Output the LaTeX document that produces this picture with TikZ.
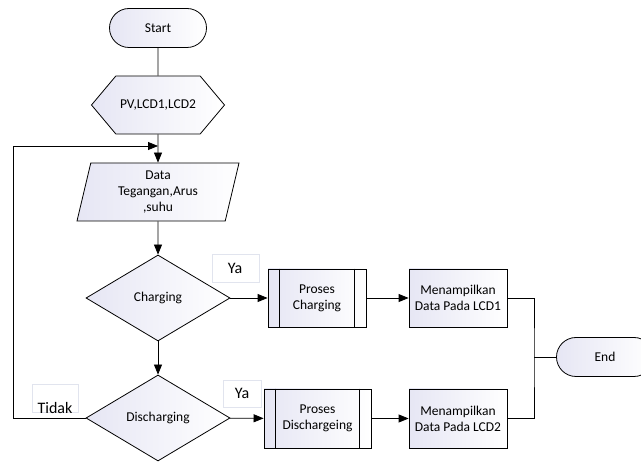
\documentclass[tikz,border=0pt]{standalone}
\usepackage{fontspec}
\setmainfont{Carlito}
\usetikzlibrary{shapes.geometric, shapes.symbols, arrows.meta}
\definecolor{boxshade}{RGB}{230,230,244}
\definecolor{labelline}{RGB}{225,228,238}

\begin{document}
\begin{tikzpicture}[x=1pt, y=-1pt, font=\fontsize{13.5}{16}\selectfont,
  shaded/.style={draw, thick, left color=boxshade, right color=white, align=center, inner sep=0pt},
  terminal/.style={shaded, rectangle, rounded corners=19.5pt, minimum width=97pt, minimum height=39pt},
  prep/.style={shaded, signal, signal to=east and west, signal pointer angle=100, minimum width=133pt, minimum height=58pt},
  io/.style={shaded, trapezium, trapezium left angle=72, trapezium right angle=108, trapezium stretches body, minimum width=162pt, minimum height=58pt},
  decision/.style={shaded, diamond, minimum width=144pt, minimum height=86pt},
  process/.style={shaded, rectangle, minimum width=98pt, minimum height=58pt},
  label/.style={font=\fontsize{16}{19}\selectfont, inner sep=0pt},
  line/.style={thick},
  arrow/.style={thick, -{Triangle[length=10pt, width=8pt]}}]
\useasboundingbox (0,0) rectangle (641,462);

% shapes
\path (158,28) node[terminal] (start) {Start};
\path (158,105) node[prep] (init) {PV,LCD1,LCD2};
\path (158,192) node[io] (data) {Data\\Tegangan,Arus\\,suhu};
\path (158,298) node[decision] (chg) {Charging};
\path (158,418) node[decision] (dis) {Discharging};
\path (317,298) node[process] (pchg) {Proses\\Charging};
\path (317.5,418.5) node[process, minimum width=107pt, minimum height=59pt] (pdis) {Proses\\Dischargeing};
\path (458,298) node[process] (lcd1) {Menampilkan\\Data Pada LCD1};
\path (458,418.5) node[process, minimum height=59pt] (lcd2) {Menampilkan\\Data Pada LCD2};
\path (605,357) node[terminal] (end) {End};

% inner lines of the process boxes
\draw[line] ([xshift=12pt]pchg.north west) -- ([xshift=12pt]pchg.south west);
\draw[line] ([xshift=-12pt]pchg.north east) -- ([xshift=-12pt]pchg.south east);
\draw[line] ([xshift=12pt]pdis.north west) -- ([xshift=12pt]pdis.south west);
\draw[line] ([xshift=-12pt]pdis.north east) -- ([xshift=-12pt]pdis.south east);

% labels
\draw[labelline] (212,254) rectangle (259,282);
\path (235,268) node[label] (ya1) {Ya};
\draw[labelline] (223,380) rectangle (261,407);
\path (242,393) node[label] (ya2) {Ya};
\draw[labelline] (32,384) rectangle (78,412);
\path (55,408) node[label] (tidak) {Tidak};

% connectors
\coordinate (loopa) at (13,418);
\coordinate (loopb) at (13,146);
\coordinate (loopc) at (158,146);
\coordinate (join) at (534,357);
\draw[line] (start) -- (init);
\draw[arrow] (init) -- (data);
\draw[arrow] (data) -- (chg);
\draw[arrow] (chg) -- (dis);
\draw[arrow] (chg) -- (pchg);
\draw[arrow] (dis) -- (pdis);
\draw[arrow] (pchg) -- (lcd1);
\draw[arrow] (pdis) -- (lcd2);
\draw[arrow] (dis.west) -- (loopa) -- (loopb) -- (loopc);
\draw[line] (lcd1.east) -| (join) |- (lcd2.east);
\draw[line] (join) -- (end);
\end{tikzpicture}
\end{document}
